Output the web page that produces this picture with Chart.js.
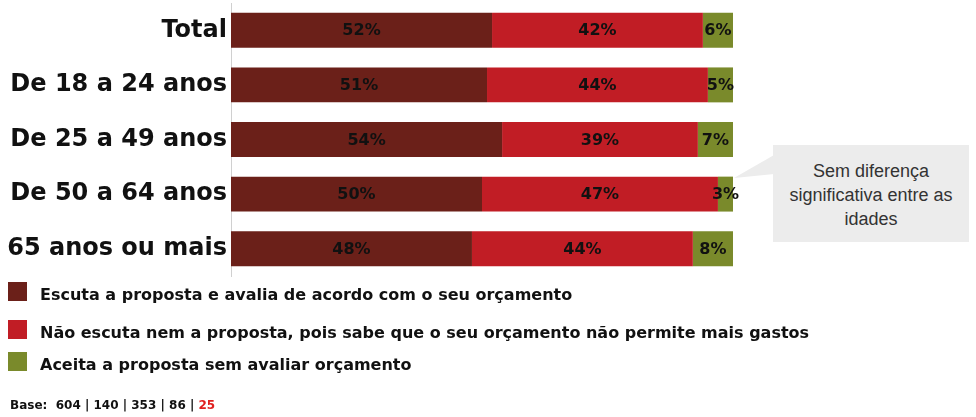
<!DOCTYPE html>
<html>
<head>
<meta charset="utf-8">
<script src="https://cdn.jsdelivr.net/npm/chart.js@4/dist/chart.umd.min.js"></script>
<style>
  html, body { margin: 0; padding: 0; background: #fff; }
  #wrap { position: relative; width: 976px; height: 417px; overflow: hidden; font-family: "DejaVu Sans", Arial, sans-serif; }
  #canvas-1 { position: absolute; left: 0; top: 0; }
  #legend { position: absolute; left: 8px; top: 282px; }
  .leg-row { position: absolute; left: 0; white-space: nowrap; font-weight: bold; font-size: 16px; color: #111; }
  .leg-box { position: absolute; left: 0; width: 19px; height: 19px; }
  .leg-text { position: absolute; left: 32px; top: 3px; line-height: 20px; }
  #base { position: absolute; left: 10px; top: 398px; font-weight: bold; font-size: 12px; color: #111; white-space: nowrap; }
  #base span { color: #e0201f; }
  #note { position: absolute; left: 773px; top: 145px; width: 196px; height: 97px; background: #ececec;
          font-family: "Liberation Sans", Arial, sans-serif;
          font-size: 18px; color: #333; text-align: center; line-height: 24px; box-sizing: border-box; padding-top: 14px; }
  #tail { position: absolute; left: 0; top: 0; }
</style>
</head>
<body>
<div id="wrap">
  <canvas id="canvas-1" width="976" height="417"></canvas>
  <svg id="tail" width="976" height="417"><polygon points="774,155 734,178 774,174" fill="#ececec"/></svg>
  <div id="note">Sem diferença<br>significativa entre as<br>idades</div>
  <div id="legend"></div>
  <div id="base">Base:&nbsp; 604 | 140 | 353 | 86 | <span>25</span></div>
</div>
<script>
'use strict';

var categories = ['Total', 'De 18 a 24 anos', 'De 25 a 49 anos', 'De 50 a 64 anos', '65 anos ou mais'];
var seriesNames = [
  'Escuta a proposta e avalia de acordo com o seu orçamento',
  'Não escuta nem a proposta, pois sabe que o seu orçamento não permite mais gastos',
  'Aceita a proposta sem avaliar orçamento'
];
var escuta = [52, 51, 54, 50, 48];
var naoEscuta = [42, 44, 39, 47, 44];
var aceita = [6, 5, 7, 3, 8];
var colors = ['#6b2019', '#c11d25', '#7a8a2b'];

// legend rows, built from the series names
var legend = document.getElementById('legend');
var legTops = [0, 38, 70];
seriesNames.forEach(function (name, i) {
  var row = document.createElement('div');
  row.className = 'leg-row';
  row.style.top = legTops[i] + 'px';
  row.innerHTML = '<div class="leg-box" style="background:' + colors[i] + '"></div>' +
                  '<div class="leg-text">' + name + '</div>';
  legend.appendChild(row);
});

// percentage labels in the middle of each segment
var barLabels = {
  id: 'barLabels',
  afterDatasetsDraw: function (chart) {
    var ctx = chart.ctx;
    ctx.save();
    ctx.font = 'bold 16px "DejaVu Sans", Arial, sans-serif';
    ctx.fillStyle = '#111';
    ctx.textAlign = 'center';
    ctx.textBaseline = 'middle';
    chart.data.datasets.forEach(function (ds, i) {
      chart.getDatasetMeta(i).data.forEach(function (bar, j) {
        var x = (bar.x + bar.base) / 2;
        ctx.fillText(ds.data[j] + '%', x, bar.y + 1);
      });
    });
    ctx.restore();
  }
};

var ctx = document.getElementById('canvas-1');
var chart = new Chart(ctx, {
  type: 'bar',
  data: {
    labels: categories,
    datasets: [
      { label: seriesNames[0], data: escuta, backgroundColor: colors[0] },
      { label: seriesNames[1], data: naoEscuta, backgroundColor: colors[1] },
      { label: seriesNames[2], data: aceita, backgroundColor: colors[2] }
    ]
  },
  options: {
    indexAxis: 'y',
    responsive: false,
    animation: false,
    layout: { padding: { left: 0, right: 243, top: 3, bottom: 141 } },
    categoryPercentage: 0.8,
    barPercentage: 0.8,
    plugins: { legend: { display: false }, tooltip: { enabled: false } },
    scales: {
      x: { stacked: true, min: 0, max: 100, display: false },
      y: {
        stacked: true,
        grid: { display: false, drawTicks: false },
        border: { display: true, color: '#d0d0d0', width: 1 },
        ticks: {
          padding: 4,
          color: '#111',
          font: { family: '"DejaVu Sans", Arial, sans-serif', size: 24, weight: 'bold' }
        },
        afterFit: function (scale) {
          scale.width = 231;
          scale.paddingTop = 0;
          scale.paddingBottom = 0;
        }
      }
    }
  },
  plugins: [barLabels]
});
</script>
</body>
</html>
